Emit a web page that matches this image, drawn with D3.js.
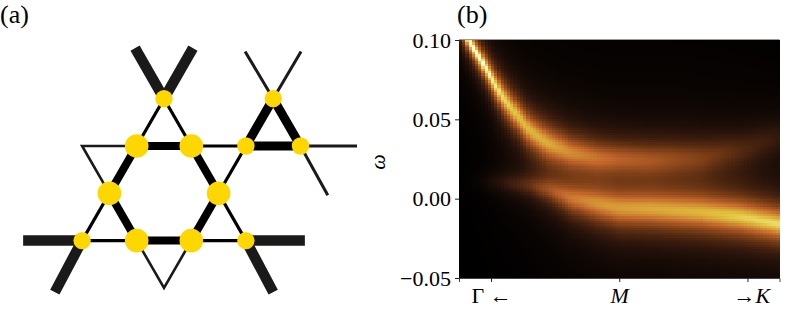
<!DOCTYPE html>
<html>
<head>
<meta charset="utf-8">
<script src="https://cdn.jsdelivr.net/npm/d3@7"></script>
<style>
  html, body { margin: 0; padding: 0; background: #fff; }
  svg { display: block; }
  text { font-family: "Liberation Serif", serif; fill: #000; }
</style>
</head>
<body>
<div id="chart"></div>
<script>
// (a) lattice, in half-bond / row units
const nodeU = [0, -1, 1, -2, 2, -1, 1, -3, 3, 4, 3, 5];
const nodeV = [2, 1, 1, 0, 0, -1, -1, -1, -1, 2, 1, 1];
const nodeKind = ['s', 'b', 'b', 'b', 'b', 'b', 'b', 's', 's', 's', 's', 's'];

// bonds: [u1, v1, u2, v2, kind]
const bonds = [
  [0, 2, -1.06, 3.07, 'stub'], [0, 2, 1.06, 3.07, 'stub'],
  [-3, -1, -5.16, -1, 'stub'], [3, -1, 5.16, -1, 'stub'],
  [-3, -1, -4, -2.09, 'stub'], [3, -1, 4, -2.09, 'stub'],
  [0, 2, -1, 1, 'thin'], [0, 2, 1, 1, 'thin'],
  [-2, 0, -3, -1, 'thin'], [2, 0, 3, -1, 'thin'],
  [-3, -1, -1, -1, 'thin'], [1, -1, 3, -1, 'thin'],
  [1, 1, 3, 1, 'thin'], [3, 1, 2, 0, 'thin'],
  [-1, 1, 1, 1, 'thick'], [-1, -1, 1, -1, 'thick'],
  [-1, 1, -2, 0, 'thick'], [-2, 0, -1, -1, 'thick'],
  [1, 1, 2, 0, 'thick'], [2, 0, 1, -1, 'thick'],
  [4, 2, 3, 1, 'heavy'], [4, 2, 5, 1, 'heavy'], [3, 1, 5, 1, 'heavy'],
  [4, 2, 2.97, 3, 'hair'], [4, 2, 5.02, 3, 'hair'],
  [5, 1, 7.07, 1, 'hair'], [5, 1, 6, -0.04, 'hair'],
];

// open corners of the lattice, two bonds drawn as one path
const cornerU = [[-1, -3, -2], [-1, 0, 1]];
const cornerV = [[1, 1, 0], [-1, -2, -1]];

// (b) spectral bands
const kTicks = [0, 1, 2];
const kLabels = ['Γ ←', 'M', '→K'];
const wTicks = [0.10, 0.05, 0.00, -0.05];

const upperK = [-0.25, -0.18, -0.09, 0.01, 0.09, 0.20, 0.30, 0.44, 0.62, 0.83, 1.0, 1.24, 1.63, 1.95, 2.25];
const upperW = [0.113, 0.100, 0.089, 0.075, 0.064, 0.053, 0.043, 0.035, 0.029, 0.0256, 0.025, 0.0244, 0.0256, 0.0307, 0.0389];
const upperI = [1.0, 1.0, 1.0, 0.93, 0.86, 0.8, 0.76, 0.72, 0.6, 0.5, 0.43, 0.38, 0.27, 0.17, 0.11];
const upperG = [0.005, 0.005, 0.0055, 0.0065, 0.0075, 0.008, 0.0085, 0.009, 0.009, 0.009, 0.009, 0.0095, 0.0105, 0.011, 0.011];

const lowerK = [-0.25, -0.09, 0.07, 0.30, 0.46, 0.62, 0.83, 1.0, 1.24, 1.63, 1.95, 2.25];
const lowerW = [0.011, 0.011, 0.0105, 0.0085, 0.0055, 0.0004, -0.0033, -0.006, -0.0065, -0.0085, -0.0115, -0.016];
const lowerI = [0, 0.02, 0.09, 0.2, 0.36, 0.52, 0.62, 0.66, 0.69, 0.74, 0.82, 0.86];
const lowerG = [0.006, 0.006, 0.006, 0.0065, 0.007, 0.008, 0.009, 0.0095, 0.0095, 0.0095, 0.009, 0.0085];

const colorStops = [0, 0.1, 0.3, 0.5, 0.68, 0.8, 0.92, 1];
const colorValues = ['#000000', '#26120a', '#7a3d16', '#c0642a', '#d89a36', '#e0c43e', '#fbeea0', '#ffffff'];

const width = 789;
const height = 318;

const svg = d3.select('#chart').append('svg')
  .attr('width', width)
  .attr('height', height);

// ---- panel (a) ----
const xLat = d3.scaleLinear().domain([0, 1]).range([164, 191.3]);
const yLat = d3.scaleLinear().domain([0, 1]).range([193.3, 146]);

const bondStyle = {
  stub: { w: 10.5, c: '#1a1a1a' },
  thin: { w: 3.2, c: '#000' },
  thick: { w: 8, c: '#000' },
  heavy: { w: 9, c: '#000' },
  hair: { w: 3, c: '#1a1a1a' },
};

const lat = svg.append('g');

lat.selectAll('line.bond')
  .data(bonds)
  .enter().append('line')
  .attr('class', 'bond')
  .attr('x1', d => xLat(d[0]))
  .attr('y1', d => yLat(d[1]))
  .attr('x2', d => xLat(d[2]))
  .attr('y2', d => yLat(d[3]))
  .attr('stroke', d => bondStyle[d[4]].c)
  .attr('stroke-width', d => bondStyle[d[4]].w);

const cornerLine = d3.line().x(d => xLat(d[0])).y(d => yLat(d[1]));
lat.selectAll('path.corner')
  .data(cornerU.map((us, i) => us.map((u, j) => [u, cornerV[i][j]])))
  .enter().append('path')
  .attr('class', 'corner')
  .attr('d', cornerLine)
  .attr('fill', 'none')
  .attr('stroke', '#1a1a1a')
  .attr('stroke-width', 2.6)
  .attr('stroke-linejoin', 'miter');

lat.selectAll('circle')
  .data(nodeU)
  .enter().append('circle')
  .attr('cx', d => xLat(d))
  .attr('cy', (d, i) => yLat(nodeV[i]))
  .attr('r', (d, i) => nodeKind[i] === 'b' ? 11.8 : 8.7)
  .attr('fill', '#ffd700');

svg.append('text').attr('x', 0).attr('y', 23).style('font-size', '26px').text('(a)');
svg.append('text').attr('x', 457).attr('y', 23).style('font-size', '26px').text('(b)');

// ---- panel (b) ----
const xScale = d3.scaleLinear().domain([-0.25, 2.25]).range([459, 779.5]);
const yScale = d3.scaleLinear().domain([-0.05, 0.10]).range([278, 40]);

const bandAt = (ks, vs) => d3.scaleLinear().domain(ks).range(vs).clamp(true);
const bands = [
  { w: bandAt(upperK, upperW), i: bandAt(upperK, upperI), g: bandAt(upperK, upperG) },
  { w: bandAt(lowerK, lowerW), i: bandAt(lowerK, lowerI), g: bandAt(lowerK, lowerG) },
];

const color = d3.scaleLinear().domain(colorStops).range(colorValues).clamp(true);

// the field is the sum of the two read bands, each a lorentzian line shape
const nCols = 100;
const nRows = 100;
const xCell = d3.scaleBand().domain(d3.range(nCols)).range(xScale.range());
const yCell = d3.scaleBand().domain(d3.range(nRows)).range([40, 278]);

const cells = [];
d3.range(nRows).forEach(r => {
  const w = yScale.invert(yCell(r) + yCell.bandwidth() / 2);
  d3.range(nCols).forEach(c => {
    const k = xScale.invert(xCell(c) + xCell.bandwidth() / 2);
    const v = d3.sum(bands, b => {
      const dw = (w - b.w(k)) / b.g(k);
      return b.i(k) / (1 + dw * dw);
    });
    cells.push({ r, c, v });
  });
});

svg.append('g')
  .attr('shape-rendering', 'crispEdges')
  .selectAll('rect')
  .data(cells)
  .enter().append('rect')
  .attr('x', d => xCell(d.c))
  .attr('y', d => yCell(d.r))
  .attr('width', xCell.bandwidth() + 0.5)
  .attr('height', yCell.bandwidth() + 0.5)
  .attr('fill', d => color(d.v));

const xAxis = d3.axisBottom(xScale)
  .tickValues(kTicks)
  .tickSize(4)
  .tickPadding(5)
  .tickFormat((d, i) => kLabels[i]);

const yAxis = d3.axisLeft(yScale)
  .tickValues(wTicks)
  .tickSize(4)
  .tickPadding(4)
  .tickFormat(d => d3.format('.2f')(d).replace('-', '\u2212'));

const gx = svg.append('g').attr('transform', 'translate(0,278)').call(xAxis);
const gy = svg.append('g').attr('transform', 'translate(459,0)').call(yAxis);

gx.selectAll('.domain').attr('stroke', '#444').attr('stroke-width', 1);
gy.select('.domain').remove();
gx.selectAll('.tick line').attr('stroke', '#222');
gy.selectAll('.tick line').attr('stroke', '#222');
gx.selectAll('text').style('font-size', '22px').attr('fill', '#000').attr('font-family', 'Liberation Serif');
gy.selectAll('text').style('font-size', '22px').attr('fill', '#000').attr('font-family', 'Liberation Serif');
gx.selectAll('text').filter((d, i) => i > 0).style('font-style', 'italic');
gx.selectAll('text').filter((d, i) => i === 2).attr('dx', 4);

// top spine
svg.append('line')
  .attr('x1', xScale.range()[0]).attr('x2', xScale.range()[1])
  .attr('y1', 39.5).attr('y2', 39.5)
  .attr('stroke', '#999').attr('stroke-width', 1);

svg.append('text')
  .attr('transform', 'translate(385,162) rotate(-90)')
  .attr('text-anchor', 'middle')
  .style('font-size', '22px')
  .style('font-style', 'italic')
  .text('ω');
</script>
</body>
</html>
